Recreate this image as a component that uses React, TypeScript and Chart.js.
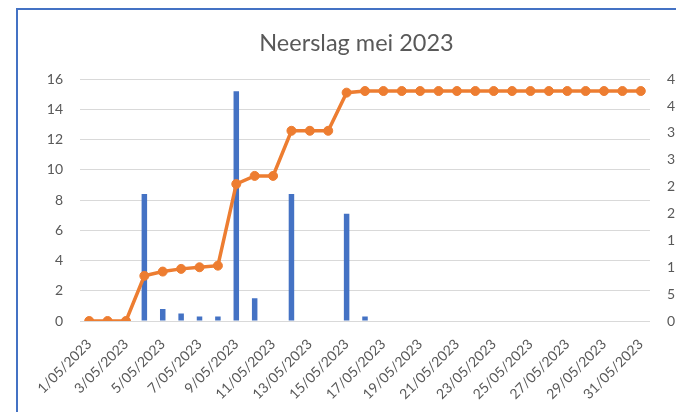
import React, { useEffect, useRef } from "react";
import { Chart, registerables } from "chart.js";

Chart.register(...registerables);

const dayLabels: string[] = [
  "1/05/2023", "2/05/2023", "3/05/2023", "4/05/2023", "5/05/2023", "6/05/2023",
  "7/05/2023", "8/05/2023", "9/05/2023", "10/05/2023", "11/05/2023", "12/05/2023",
  "13/05/2023", "14/05/2023", "15/05/2023", "16/05/2023", "17/05/2023", "18/05/2023",
  "19/05/2023", "20/05/2023", "21/05/2023", "22/05/2023", "23/05/2023", "24/05/2023",
  "25/05/2023", "26/05/2023", "27/05/2023", "28/05/2023", "29/05/2023", "30/05/2023",
  "31/05/2023",
];

const dailyRain: number[] = [
  0, 0, 0, 8.4, 0.8, 0.5, 0.3, 0.3, 15.2, 1.5, 0, 8.4, 0, 0, 7.1, 0.3,
  0, 0, 0, 0, 0, 0, 0, 0, 0, 0, 0, 0, 0, 0, 0,
];

const cumulativeRain: number[] = [
  0, 0, 0, 8.4, 9.2, 9.7, 10.0, 10.3, 25.5, 27.0, 27.0, 35.4, 35.4, 35.4, 42.5, 42.8,
  42.8, 42.8, 42.8, 42.8, 42.8, 42.8, 42.8, 42.8, 42.8, 42.8, 42.8, 42.8, 42.8, 42.8, 42.8,
];

const titleText = "Neerslag mei 2023";
const leftMax = 16;
const leftStep = 2;
const rightMax = 45;
const rightStep = 5;

const FONT = "Lato, 'Liberation Sans', sans-serif";
const TEXT = "#595959";

export default function App() {
  const ref = useRef<HTMLCanvasElement | null>(null);

  useEffect(() => {
    if (!ref.current) return;
    const chart = new Chart(ref.current, {
      type: "bar",
      data: {
        labels: dayLabels,
        datasets: [
          {
            type: "line",
            label: "Cumulatief",
            data: cumulativeRain,
            yAxisID: "y1",
            borderColor: "#ED7D31",
            backgroundColor: "#ED7D31",
            borderWidth: 3.5,
            pointRadius: 4.5,
            pointBorderWidth: 1,
            pointBackgroundColor: "#ED7D31",
            pointBorderColor: "#ED7D31",
            tension: 0,
            order: 0,
          },
          {
            type: "bar",
            label: "Neerslag",
            data: dailyRain,
            yAxisID: "y",
            backgroundColor: "#4472C4",
            barThickness: 5.5,
            borderWidth: 0,
            inflateAmount: 0,
            order: 1,
          },
        ],
      },
      options: {
        animation: false,
        responsive: false,
        maintainAspectRatio: false,
        layout: { padding: { left: 38, right: 0, top: 0, bottom: 0 } },
        plugins: {
          legend: { display: false },
          tooltip: { enabled: false },
          title: {
            display: true,
            text: titleText,
            color: TEXT,
            font: { family: FONT, size: 23.5, weight: "normal" },
            padding: { top: 29, bottom: 22 },
          },
        },
        scales: {
          x: {
            offset: true,
            grid: { display: false },
            border: { display: false },
            ticks: {
              autoSkip: false,
              minRotation: 45,
              maxRotation: 45,
              padding: 7,
              color: TEXT,
              font: { family: FONT, size: 14 },
              callback: (_v: any, i: number) => (i % 2 === 0 ? dayLabels[i] : ""),
            },
            afterFit: (s: any) => {
              s.height = 91;
            },
          },
          y: {
            position: "left",
            min: 0,
            max: leftMax,
            grid: { color: "#D9D9D9", lineWidth: 1, drawTicks: false },
            border: { display: false },
            ticks: {
              stepSize: leftStep,
              padding: 17,
              color: TEXT,
              font: { family: FONT, size: 14 },
            },
            afterFit: (s: any) => {
              s.width = 42;
            },
          },
          y1: {
            position: "right",
            min: 0,
            max: rightMax,
            grid: { display: false, drawTicks: false },
            border: { display: false },
            ticks: {
              stepSize: rightStep,
              padding: 17,
              color: TEXT,
              font: { family: FONT, size: 14 },
            },
            afterFit: (s: any) => {
              s.width = 25;
            },
          },
        },
      },
    });
    return () => chart.destroy();
  }, []);

  return (
    <div
      style={{
        position: "absolute",
        left: 0,
        top: 0,
        width: 676,
        height: 412,
        overflow: "hidden",
        background: "#ffffff",
      }}
    >
      <div
        style={{
          position: "absolute",
          left: 16,
          top: 8,
          width: 700,
          height: 500,
          borderLeft: "2px solid #4472C4",
          borderTop: "2px solid #4472C4",
        }}
      />
      <canvas
        ref={ref}
        width={675}
        height={412}
        style={{ position: "absolute", left: 0, top: 0, width: 675, height: 412 }}
      />
    </div>
  );
}
